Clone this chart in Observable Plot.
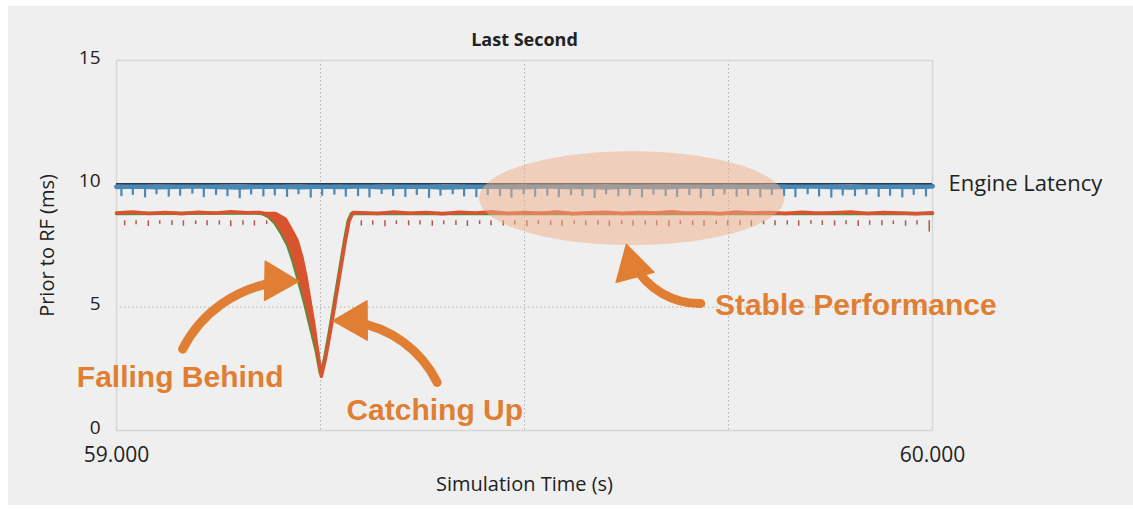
<!DOCTYPE html>
<html><head><meta charset="utf-8">
<script src="https://cdn.jsdelivr.net/npm/d3@7"></script>
<script src="https://cdn.jsdelivr.net/npm/@observablehq/plot@0.6"></script>
<style>
body{margin:0;background:#fff;width:1133px;height:510px;overflow:hidden;}
#chart{position:absolute;left:8px;top:6px;}
</style></head><body><div id="chart"></div>
<script>
// ---- data ----
const xTicks = [59, 60];
const yTicks = [0, 5, 10, 15];
const gridT = [59.25, 59.5, 59.75];
const gridV = [5, 10];
const latencyTarget = 10;

const blueT = [59.000,59.025,59.050,59.075,59.100,59.125,59.150,59.175,59.200,59.225,
  59.250,59.275,59.300,59.325,59.350,59.375,59.400,59.425,59.450,59.475,
  59.500,59.525,59.550,59.575,59.600,59.625,59.650,59.675,59.700,59.725,
  59.750,59.775,59.800,59.825,59.850,59.875,59.900,59.925,59.950,59.975,60.000];
const blueV = [9.88,9.90,9.87,9.89,9.91,9.88,9.86,9.90,9.89,9.87,
  9.90,9.88,9.91,9.87,9.89,9.90,9.86,9.88,9.90,9.89,
  9.87,9.91,9.88,9.89,9.86,9.90,9.88,9.87,9.91,9.89,
  9.88,9.90,9.87,9.89,9.91,9.88,9.86,9.90,9.89,9.88,9.90];

const spikeT = [59.006,59.020,59.035,59.049,59.064,59.078,59.093,59.107,59.122,59.136,
  59.151,59.165,59.180,59.194,59.209,59.223,59.238,59.252,59.267,59.281,
  59.296,59.310,59.325,59.339,59.354,59.368,59.383,59.397,59.412,59.426,
  59.441,59.455,59.470,59.484,59.499,59.513,59.528,59.542,59.557,59.571,
  59.586,59.600,59.615,59.629,59.644,59.658,59.673,59.687,59.702,59.716,
  59.731,59.745,59.760,59.774,59.789,59.803,59.818,59.832,59.847,59.861,
  59.876,59.890,59.905,59.919,59.934,59.948,59.963,59.977,59.992];
const spikeLow = [9.48,9.53,9.43,9.56,9.46,9.50,9.58,9.44,9.53,9.48,
  9.40,9.55,9.47,9.51,9.45,9.56,9.42,9.50,9.54,9.46,
  9.48,9.43,9.57,9.49,9.45,9.53,9.41,9.50,9.56,9.47,
  9.44,9.52,9.48,9.42,9.55,9.46,9.50,9.44,9.53,9.48,
  9.41,9.56,9.47,9.51,9.43,9.54,9.48,9.45,9.52,9.40,
  9.49,9.55,9.46,9.50,9.43,9.53,9.48,9.44,9.56,9.47,
  9.42,9.51,9.48,9.54,9.45,9.50,9.43,9.53,9.47];
const markLow = [8.30,8.34,8.27,8.36,8.31,8.28,8.35,8.30,8.33,8.26,
  8.32,8.29,8.35,8.30,8.27,8.34,8.31,8.28,8.33,8.36,
  8.29,8.32,8.26,8.35,8.30,8.33,8.28,8.34,8.31,8.27,
  8.35,8.30,8.29,8.33,8.26,8.34,8.31,8.28,8.36,8.30,
  8.32,8.27,8.35,8.29,8.33,8.30,8.26,8.34,8.31,8.28,
  8.35,8.29,8.32,8.27,8.34,8.30,8.33,8.28,8.36,8.31,
  8.29,8.34,8.27,8.32,8.30,8.35,8.28,8.33,8.05];

const orangeT = [59.000,59.020,59.040,59.060,59.080,59.100,59.120,59.140,59.160,59.175,
  59.182,59.188,59.196,59.204,59.212,59.218,59.224,59.232,59.240,59.246,
  59.251,59.256,59.262,59.268,59.274,59.280,59.285,59.290,
  59.30,59.32,59.34,59.36,59.38,59.40,59.42,59.44,59.46,59.48,
  59.50,59.52,59.54,59.56,59.58,59.60,59.62,59.64,59.66,59.68,
  59.70,59.72,59.74,59.76,59.78,59.80,59.82,59.84,59.86,59.88,
  59.90,59.92,59.94,59.96,59.98,60.00];
const orangeV = [8.82,8.86,8.80,8.84,8.79,8.85,8.81,8.87,8.83,8.84,
  8.80,8.70,8.45,8.05,7.55,6.95,6.25,5.30,4.20,3.30,
  2.20,2.90,4.00,5.20,6.40,7.60,8.50,8.84,
  8.83,8.80,8.86,8.81,8.84,8.79,8.85,8.82,8.87,8.80,
  8.84,8.81,8.86,8.79,8.83,8.85,8.80,8.84,8.82,8.87,
  8.81,8.83,8.79,8.86,8.82,8.84,8.80,8.85,8.81,8.83,
  8.86,8.80,8.84,8.82,8.79,8.83];

const greenT = [59.000,59.170,59.178,59.186,59.194,59.202,59.210,59.216,59.222,59.230,
  59.238,59.245,59.250,59.255,59.261,59.267,59.273,59.279,59.284,59.288,59.300,60.000];
const greenV = [8.80,8.82,8.80,8.68,8.42,8.00,7.50,6.90,6.20,5.25,
  4.15,3.20,2.30,2.90,4.00,5.20,6.40,7.60,8.50,8.80,8.80,8.80];

// thick band on the descending edge
const bandV = [8.85, 8.6, 8.2, 7.7, 7.0, 6.2, 5.2, 4.2, 3.2, 2.2];
const bandLeft = [59.183, 59.193, 59.201, 59.209, 59.217, 59.224, 59.233, 59.240, 59.246, 59.251];
const bandRight = [59.196, 59.209, 59.216, 59.224, 59.230, 59.235, 59.240, 59.245, 59.249, 59.252];

// annotations
const ellipseCenter = [59.632, 9.40];
const ellipseRadii = [0.187, 1.9];
const arrowFrom = [[59.081, 3.30], [59.393, 1.95], [59.716, 5.15]];
const arrowTo = [[59.219, 6.05], [59.270, 4.45], [59.626, 7.40]];
const arrowBend = [32, -32, 38];
const noteText = ["Falling Behind", "Catching Up", "Stable Performance"];
const notePos = [[59.078, 2.15], [59.390, 0.80], [59.906, 5.07]];

// ---- build ----
const blue = blueT.map((t, i) => ({t, v: blueV[i]}));
const spikes = spikeT.map((t, i) => ({t, lo: spikeLow[i]}));
const marks = spikeT.map((t, i) => ({t: t + 0.004, lo: markLow[i]})).filter(d => d.t < 59.185 || d.t > 59.295);
const orange = orangeT.map((t, i) => ({t, v: orangeV[i]}));
const green = greenT.map((t, i) => ({t, v: greenV[i]}));
const band = bandV.map((v, i) => ({v, l: bandLeft[i], r: bandRight[i]}));
const ell = d3.range(0, 121).map(i => {
  const a = Math.PI * i / 120;
  return {t: ellipseCenter[0] - ellipseRadii[0] * Math.cos(a),
          lo: ellipseCenter[1] - ellipseRadii[1] * Math.sin(a),
          hi: ellipseCenter[1] + ellipseRadii[1] * Math.sin(a)};
});
const notes = noteText.map((s, i) => ({s, t: notePos[i][0], v: notePos[i][1]}));

const orangeC = "#e07f33";
const base = {
  width: 1125, height: 499,
  marginLeft: 108, marginTop: 54, marginRight: 201, marginBottom: 75,
  style: {background: "#efefef", fontFamily: "'Open Sans', sans-serif", fontSize: "17px", color: "#222", overflow: "visible"},
  x: {domain: [59, 60]},
  y: {domain: [0, 15]}
};
// first pass: obtain the scales to orient the arrowheads
const probe = Plot.plot({...base, marks: [Plot.frame()]});
const sx = probe.scale("x"), sy = probe.scale("y");
const heads = arrowFrom.map((f, i) => {
  const x1 = sx.apply(f[0]), y1 = sy.apply(f[1]);
  const x2 = sx.apply(arrowTo[i][0]), y2 = sy.apply(arrowTo[i][1]);
  const ang = Math.atan2(y2 - y1, x2 - x1) + arrowBend[i] * Math.PI / 180;
  const back = 19;
  const cx = x2 - back * Math.cos(ang), cy = y2 - back * Math.sin(ang);
  return {t: sx.invert(cx), v: sy.invert(cy), rot: ang * 180 / Math.PI + 90};
});
const arrowMarks = arrowFrom.map((f, i) => Plot.arrow([{x1: f[0], y1: f[1], x2: arrowTo[i][0], y2: arrowTo[i][1]}],
  {x1: "x1", y1: "y1", x2: "x2", y2: "y2", bend: arrowBend[i], stroke: orangeC, strokeWidth: 9, headLength: 0, insetEnd: 18}));

const chart = Plot.plot({
  ...base,
  marks: [
    Plot.gridX(gridT, {stroke: "#999", strokeOpacity: 0.7, strokeDasharray: "1.5,2.5"}),
    Plot.gridY(gridV, {stroke: "#999", strokeOpacity: 0.7, strokeDasharray: "1.5,2.5"}),
    Plot.frame({stroke: "#d6d6d6", strokeWidth: 1.5}),
    Plot.axisY(yTicks, {tickSize: 0, tickPadding: 16, fontSize: 19, dy: -3, label: null}),
    Plot.axisX(xTicks, {tickSize: 0, tickPadding: 17, fontSize: 21, tickFormat: d3.format(".3f"), label: null}),
    Plot.text(["Prior to RF (ms)"], {frameAnchor: "left", dx: -69, rotate: -90, textAnchor: "middle", lineAnchor: "middle", fontSize: 20}),
    Plot.text(["Simulation Time (s)"], {frameAnchor: "bottom", dy: 54, lineAnchor: "middle", fontSize: 20}),
    Plot.text(["Last Second"], {frameAnchor: "top", dy: -20, lineAnchor: "middle", fontSize: 18, fontWeight: "bold"}),
    // blue series
    Plot.ruleX(spikes, {x: "t", y1: 9.86, y2: "lo", stroke: "#4a88b5", strokeWidth: 2.2}),
    Plot.line(blue, {x: "t", y: "v", stroke: "#4a88b5", strokeWidth: 5}),
    Plot.ruleY([latencyTarget], {stroke: "#2f3a46", strokeWidth: 1.5}),
    // orange series
    Plot.ruleX(marks, {x: "t", y1: 8.5, y2: "lo", stroke: "#a8594c", strokeWidth: 1.5}),
    Plot.line(green, {x: "t", y: "v", stroke: "#5c8c3c", strokeWidth: 3.5}),
    Plot.areaX(band, {y: "v", x1: "l", x2: "r", fill: "#d8532e"}),
    Plot.line(orange, {x: "t", y: "v", stroke: "#d8532e", strokeWidth: 3.5}),
    Plot.text(["Engine Latency"], {x: 60, y: latencyTarget, dx: 16, textAnchor: "start", fontSize: 22, fill: "#222"}),
    // annotations
    Plot.areaY(ell, {x: "t", y1: "lo", y2: "hi", fill: "#f0b08a", fillOpacity: 0.5}),
    ...arrowMarks,
    Plot.dot(heads, {x: "t", y: "v", symbol: "triangle", r: 14.5, rotate: "rot", fill: orangeC, stroke: orangeC, strokeWidth: 1.5, strokeLinejoin: "round"}),
    Plot.text(notes, {x: "t", y: "v", text: "s", fill: orangeC, fontSize: 30, fontWeight: "bold", fontFamily: "'Liberation Sans', Arial, sans-serif"})
  ]
});
document.getElementById("chart").append(chart);
</script></body></html>
